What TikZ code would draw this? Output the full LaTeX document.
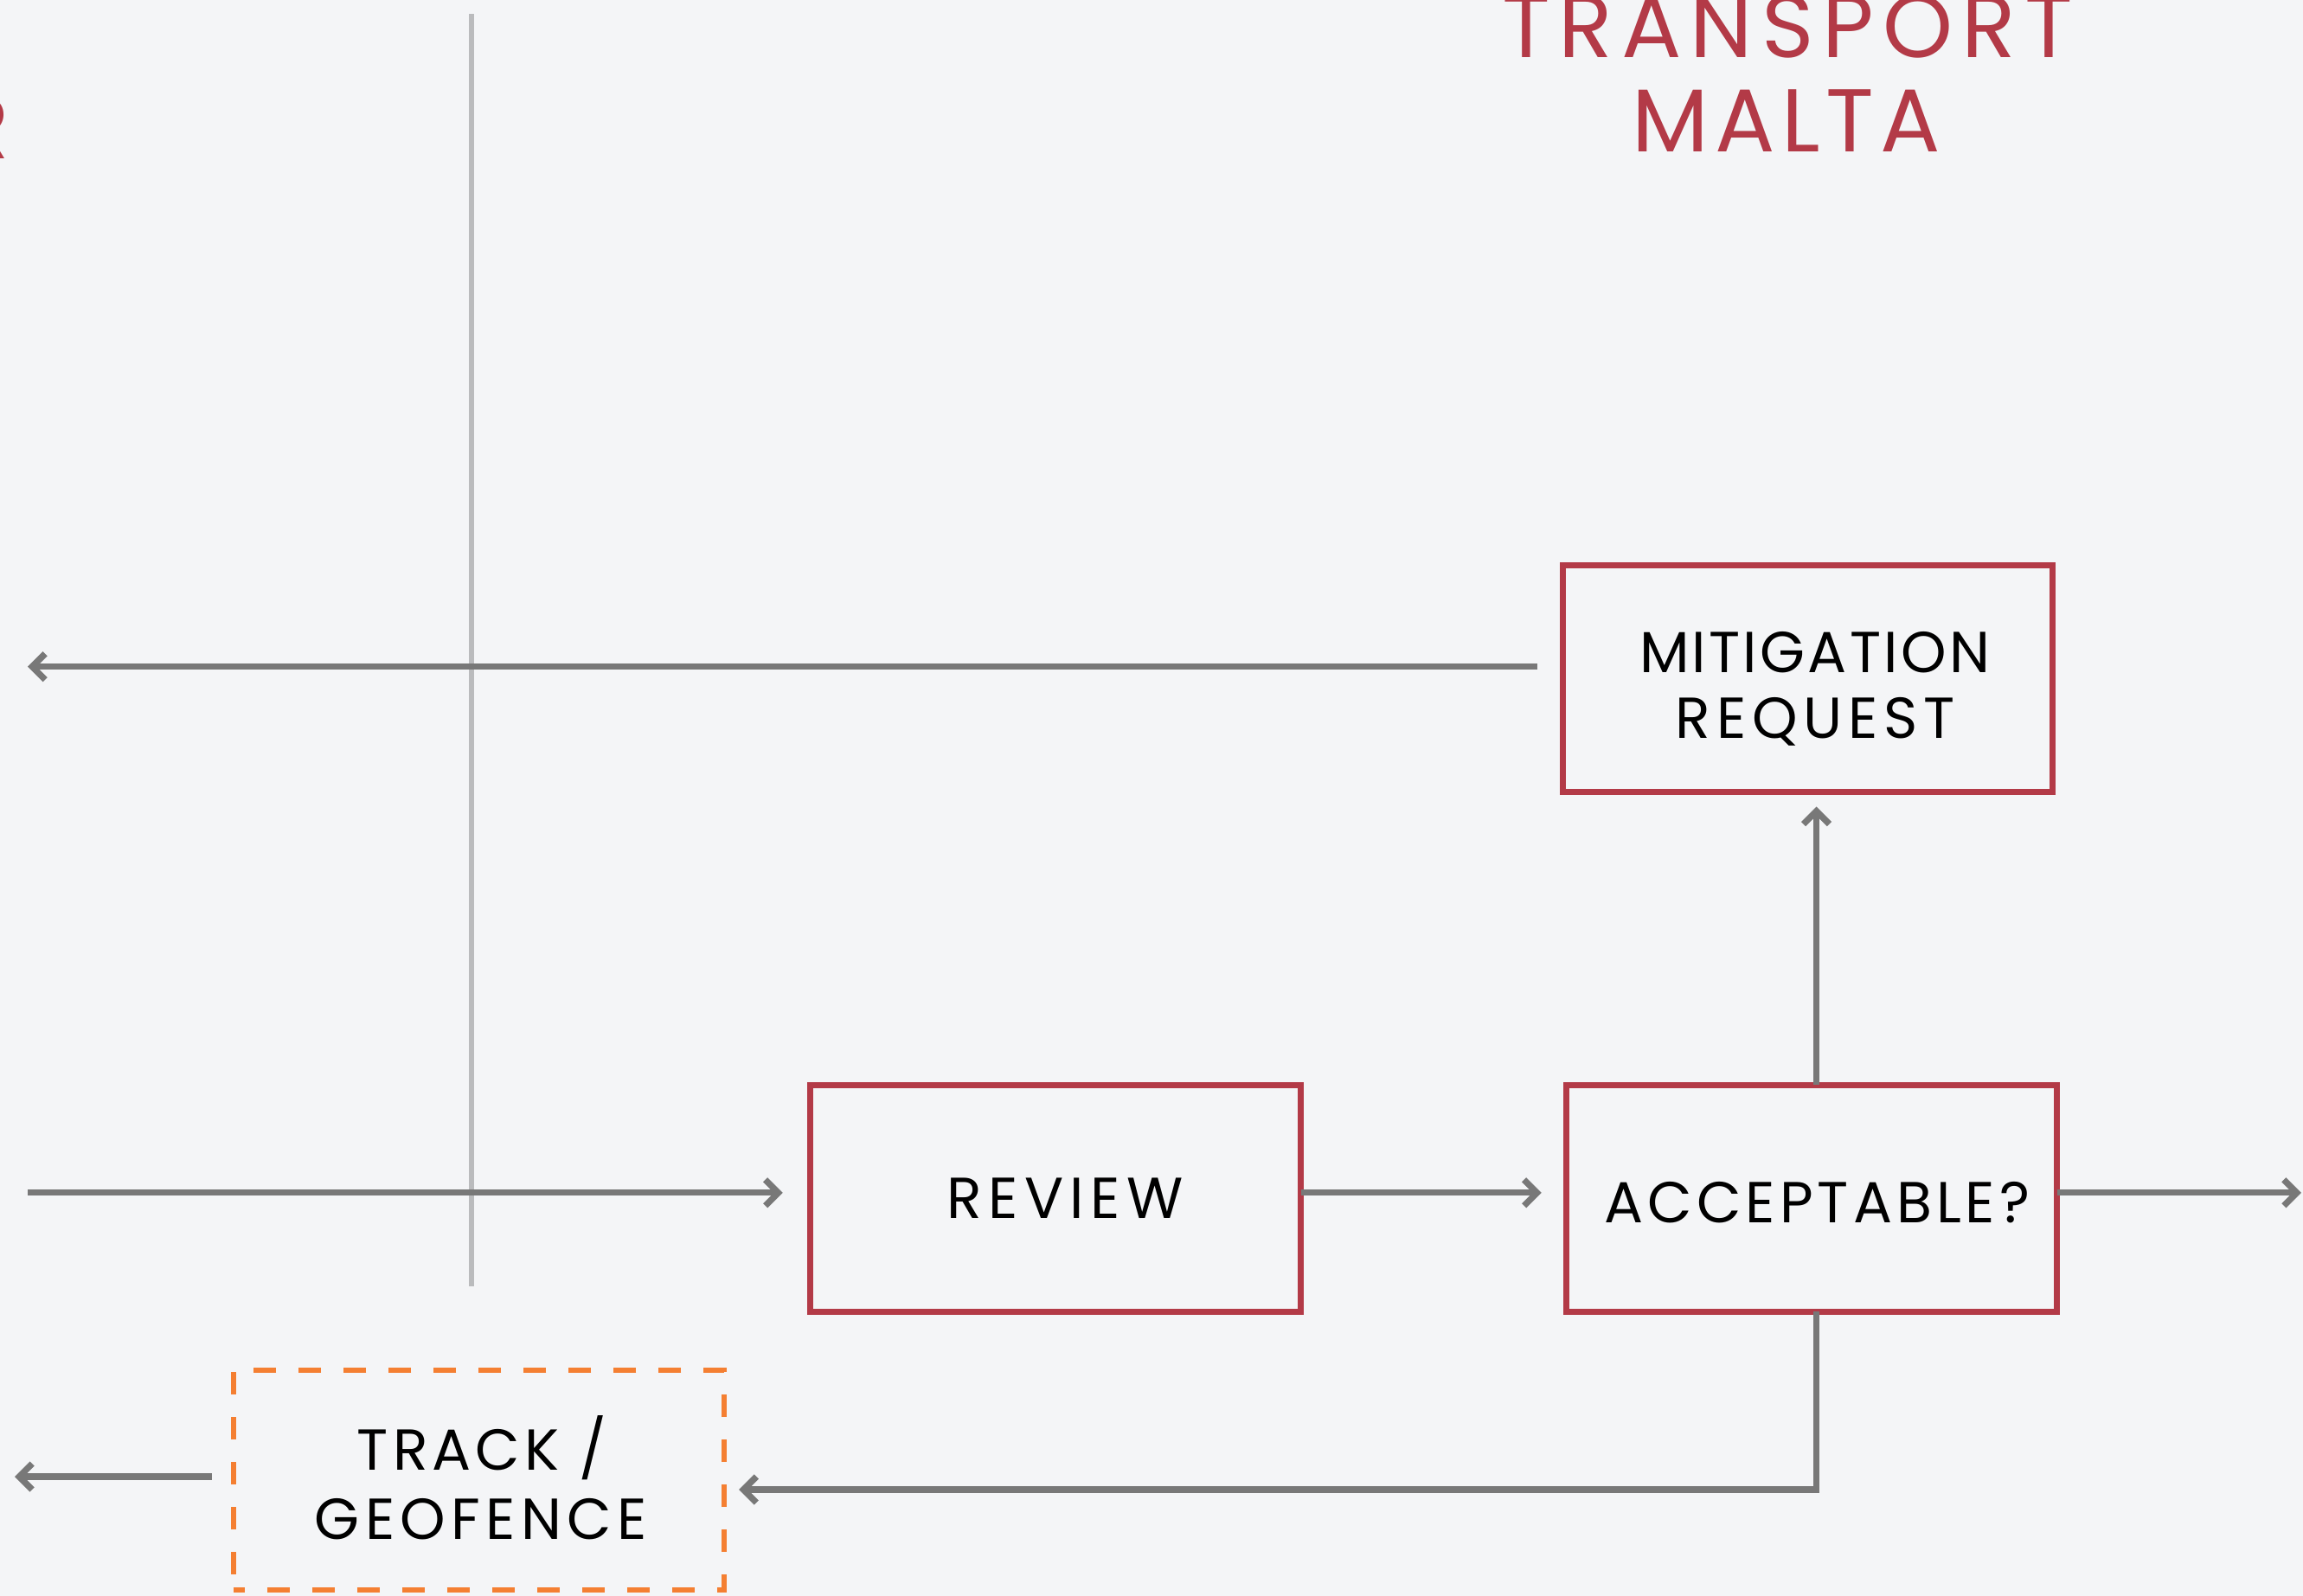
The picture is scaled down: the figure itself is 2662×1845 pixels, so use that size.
\documentclass[tikz,border=0pt]{standalone}
\usepackage{fontspec}
\setmainfont{Poppins}
\usetikzlibrary{arrows.meta}
\definecolor{bgc}{HTML}{F4F5F7}
\definecolor{redc}{HTML}{B33A47}
\definecolor{arrc}{HTML}{787878}
\definecolor{divc}{HTML}{BABBBD}
\definecolor{orc}{HTML}{F47F32}
\tikzset{
  redbox/.style={draw=redc, line width=0.07cm, fill=none, inner sep=0pt, outer sep=0pt},
  dashbox/.style={draw=orc, line width=0.06cm, inner sep=0pt, outer sep=0pt,
    dash pattern=on 0.26cm off 0.26cm, dash phase=0.13cm},
  lbl/.style={anchor=base, inner sep=0pt, text=black,
    font=\fontsize{19}{22}\selectfont\addfontfeatures{LetterSpace=#1}},
  lbl/.default=7,
  hdr/.style={anchor=base, inner sep=0pt, text=redc,
    font=\fontsize{29.3}{31}\selectfont\addfontfeatures{LetterSpace=#1}},
  hdr/.default=0,
  conn/.style={draw=arrc, line width=0.073cm, line join=miter,
    -{Straight Barb[length=0.15cm, width=0.30cm, line join=miter]}},
  divider/.style={draw=divc, line width=0.053cm}
}
\begin{document}
\begin{tikzpicture}[x=0.01cm, y=-0.01cm]
\useasboundingbox (0,0) rectangle (2662,1845);
\fill[bgc] (0,0) rectangle (2662,1845);
% headers
\node[hdr, anchor=base east] (hdrL) at (12,183) {R};
\node[hdr=9.7, xshift=0.02cm] (hdrT1) at (2064,66.7) {TRANSPORT};
\node[hdr=7, xshift=-0.02cm] (hdrT2) at (2067,175.7) {MALTA};
% divider
\coordinate (dtop) at (545,16);
\coordinate (dbot) at (545,1487);
\draw[divider] (dtop) -- (dbot);
% boxes
\node[redbox, minimum width=566cm/100, minimum height=261.4cm/100] (mit) at (2089.5,784.7) {};
\node[redbox, minimum width=566.5cm/100, minimum height=261.5cm/100] (acc) at (2094.2,1385.2) {};
\node[redbox, minimum width=566.5cm/100, minimum height=261.5cm/100] (rev) at (1220.2,1385.2) {};
\node[dashbox, minimum width=567cm/100, minimum height=254.3cm/100] (trk) at (553.5,1710.9) {};
% labels
\node[lbl=4.9, xshift=0.016cm] (mitA) at (2096,777.3) {MITIGATION};
\node[lbl=10, xshift=0.0cm] (mitB) at (2098,853.3) {REQUEST};
\node[lbl=7.5, xshift=0.015cm] (accA) at (2099,1413.3) {ACCEPTABLE?};
\node[lbl=11, xshift=-0.013cm] (revA) at (1232.5,1408.3) {REVIEW};
\node[lbl=7.5, xshift=0.02cm] (trkA) at (555,1699) {TRACK /};
\node[lbl=9.6, xshift=0.015cm] (trkB) at (554.5,1779) {GEOFENCE};
% connectors
\coordinate (topL) at (32,770.7);
\coordinate (inL) at (32,1378.8);
\coordinate (outR) at (2660,1378.8);
\coordinate (vx) at (2099.5,1722);
\coordinate (outL) at (17,1707);
\draw[conn, shorten <=0.29cm] (topL -| mit.west) -- (topL);
\draw[conn, shorten >=0.32cm] (inL) -- (inL -| rev.west);
\draw[conn, shorten >=0.29cm] (inL -| rev.east) -- (inL -| acc.west);
\draw[conn] (inL -| acc.east) -- (outR);
\draw[conn, shorten >=0.17cm] (vx |- acc.north) -- (vx |- mit.south);
\draw[conn, shorten >=0.17cm] (vx |- acc.south) -- (vx) -- (vx -| trk.east);
\draw[conn, shorten <=0.25cm] (outL -| trk.west) -- (outL);
\end{tikzpicture}
\end{document}
